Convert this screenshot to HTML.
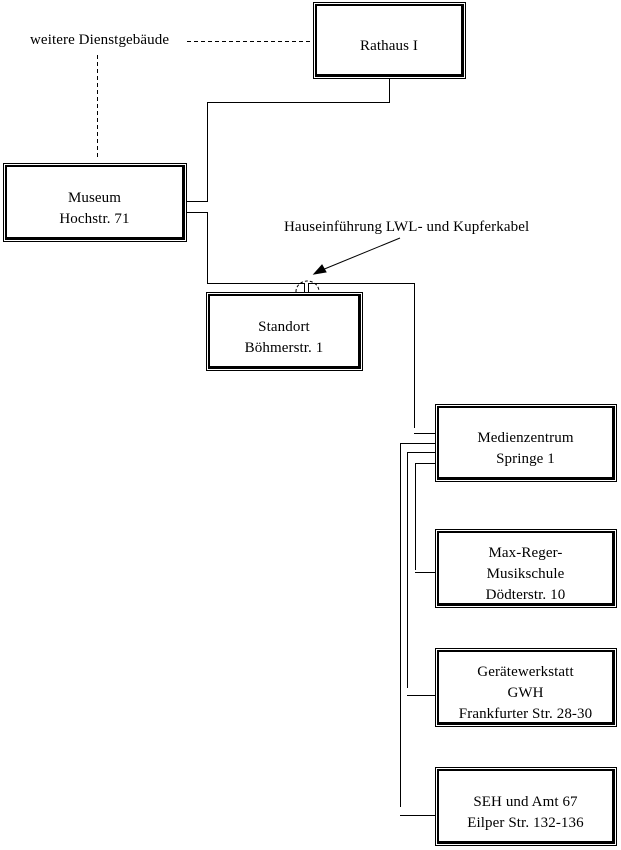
<!DOCTYPE html>
<html><head><style>
body{margin:0;width:621px;height:850px;background:#fff;position:relative;font-family:"Liberation Serif",serif;font-size:15px;letter-spacing:0.1px;color:#000;overflow:hidden}
.b{position:absolute;border:1px solid #000;padding:1px;box-sizing:border-box}
.b div{width:100%;height:100%;border:2px solid #000;border-right-width:3px;border-bottom-width:3px;box-sizing:border-box;display:flex;align-items:center;justify-content:center;text-align:center;line-height:21px;padding-top:13px}
svg{position:absolute;left:0;top:0}
.t{position:absolute;white-space:nowrap}
</style></head><body>
<svg width="621" height="850" fill="none" stroke="#000" stroke-width="1">
<path d="M389.5 79V102.5H207.5V201.5H187"/>
<path d="M187 212.5H207.5V283.5H304.5V292M308.5 292V283.5H414.5V428"/>
<path d="M414 433.5H435"/>
<path d="M435 443.5H400.5V807M400 815.5H435"/>
<path d="M435 452.5H407.5V688M407 695.5H435"/>
<path d="M435 463.5H415.5V570M415 572.5H435"/>
<path d="M296 292 A11 10 0 0 1 319 291" stroke-dasharray="3,2"/>
<path d="M187 41.5H313M97.5 55V160" stroke-dasharray="4,3"/>
<line x1="400" y1="238" x2="322" y2="270"/>
<polygon points="314,274 322,265 326,272" fill="#000"/>
</svg>
<div class="t" style="left:30px;top:32px">weitere Dienstgebäude</div>
<div class="t" style="left:284px;top:219px">Hauseinführung LWL- und Kupferkabel</div>
<div class="b" style="left:313px;top:2px;width:153px;height:77px"><div>Rathaus I</div></div>
<div class="b" style="left:3px;top:163px;width:184px;height:79px"><div>Museum<br>Hochstr. 71</div></div>
<div class="b" style="left:206px;top:292px;width:157px;height:79px"><div>Standort<br>Böhmerstr. 1</div></div>
<div class="b" style="left:435px;top:404px;width:182px;height:78px"><div>Medienzentrum<br>Springe 1</div></div>
<div class="b" style="left:435px;top:529px;width:182px;height:79px"><div>Max-Reger-<br>Musikschule<br>Dödterstr. 10</div></div>
<div class="b" style="left:435px;top:648px;width:182px;height:79px"><div>Gerätewerkstatt<br>GWH<br>Frankfurter Str. 28-30</div></div>
<div class="b" style="left:435px;top:767px;width:182px;height:79px"><div>SEH und Amt 67<br>Eilper Str. 132-136</div></div>
</body></html>
